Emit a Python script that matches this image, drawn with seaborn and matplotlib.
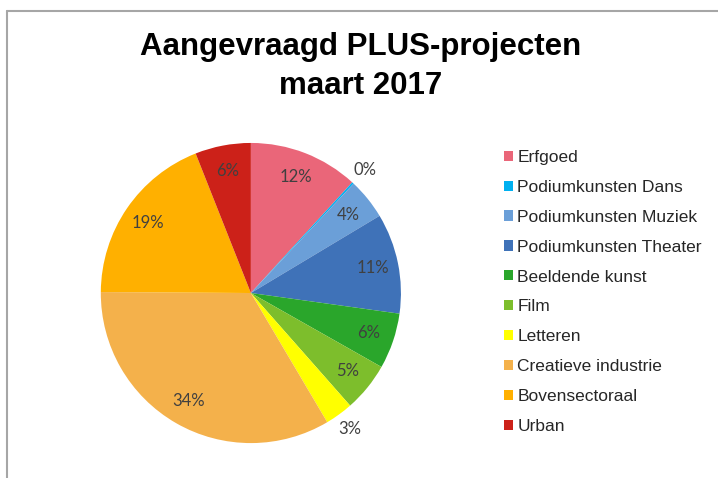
import numpy as np
import matplotlib.pyplot as plt
import seaborn as sns
from matplotlib.lines import Line2D

# Aangevraagd PLUS-projecten, maart 2017 (share per sector)
categories = [
    "Erfgoed",
    "Podiumkunsten Dans",
    "Podiumkunsten Muziek",
    "Podiumkunsten Theater",
    "Beeldende kunst",
    "Film",
    "Letteren",
    "Creatieve industrie",
    "Bovensectoraal",
    "Urban",
]
shares = [11.8, 0.2, 4.4, 10.8, 6.0, 5.3, 3.0, 33.6, 18.9, 6.0]
colors = [
    "#EA6679", "#00B0F0", "#6B9FD8", "#3F72B8", "#2AA62B",
    "#7DBE2C", "#FFFF00", "#F4B14B", "#FFB000", "#CC2119",
]

sns.set_theme(style="white")
plt.rcParams["font.family"] = ["Liberation Sans", "DejaVu Sans"]

fig = plt.figure(figsize=(7.18, 4.78), dpi=100)
ax = fig.add_axes([0.1404, 0.073, 0.418, 0.628])

wedges, texts, autotexts = ax.pie(
    shares,
    colors=colors,
    startangle=90,
    counterclock=False,
    autopct=lambda p: f"{p:.0f}%",
    pctdistance=0.83,
    wedgeprops=dict(linewidth=0),
    textprops=dict(family=["Lato", "DejaVu Sans"], size=12, color="#404040"),
)
# small slices get their label outside the pie
for w, t, v in zip(wedges, autotexts, shares):
    if v < 3.5:
        ang = np.deg2rad((w.theta1 + w.theta2) / 2)
        t.set_position((1.12 * np.cos(ang), 1.12 * np.sin(ang)))
ax.set_xlim(-1, 1)
ax.set_ylim(-1, 1)

fig.legend(
    wedges, categories,
    loc="center left", bbox_to_anchor=(504 / 718, 1 - 292 / 478),
    frameon=False, fontsize=12.5, borderpad=0, borderaxespad=0,
    handlelength=0.52, handleheight=0.52, handletextpad=0.25,
    labelspacing=0.86,
)

fig.text(0.502, 1 - 94 / 478, "Aangevraagd PLUS-projecten\nmaart 2017",
         ha="center", va="baseline", ma="center", fontsize=22.5,
         fontweight="bold", linespacing=1.38, color="black")

# chart frame (left and top edge visible)
fig.add_artist(Line2D([7 / 718, 7 / 718], [0, 1 - 11 / 478],
                      transform=fig.transFigure, color="#a6a6a6", lw=1.5))
fig.add_artist(Line2D([7 / 718, 1], [1 - 11 / 478, 1 - 11 / 478],
                      transform=fig.transFigure, color="#a6a6a6", lw=1.5))

fig.savefig("out.png", dpi=100)
